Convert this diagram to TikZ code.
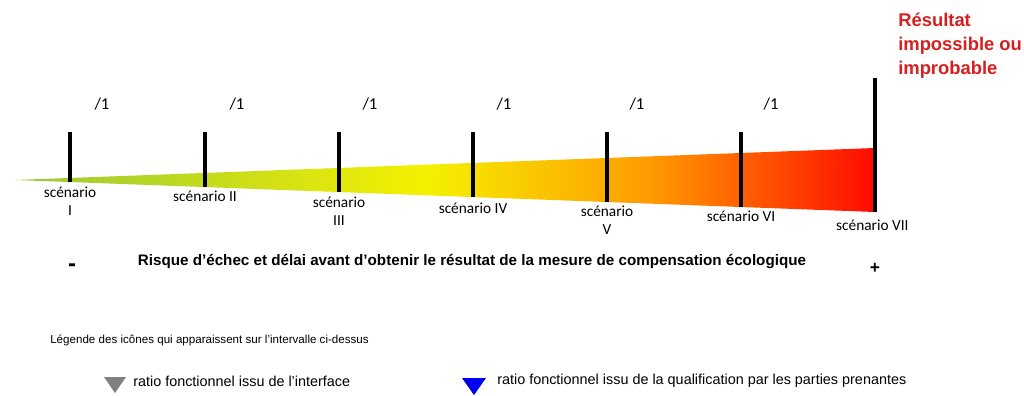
\documentclass[tikz,border=0pt]{standalone}
\usepackage{fontspec}
\setmainfont{Liberation Sans}
\newfontfamily\scenfont{Carlito}
\usetikzlibrary{positioning,calc}

\definecolor{riskgreen}{HTML}{98C836}
\definecolor{riskyellow}{HTML}{F5F000}
\definecolor{riskorange}{HTML}{FF9A00}
\definecolor{riskred}{HTML}{FF0A00}
\definecolor{resultred}{HTML}{D81E1E}
\definecolor{stakeblue}{HTML}{0000F0}

\pgfdeclarehorizontalshading{riskshade}{100bp}{color(0bp)=(riskgreen); color(25bp)=(riskgreen); color(49bp)=(riskyellow); color(62bp)=(riskorange); color(75bp)=(riskred); color(100bp)=(riskred)}

\begin{document}
\begin{tikzpicture}[
    x=0.75pt, y=-0.75pt,
    scenbar/.style={
        line width=3pt,
        black
    },
    ratio/.style={
        font=\scenfont\fontsize{12.5}{14}\selectfont,
        inner sep=0pt
    },
    scenlabel/.style={
        font=\scenfont\fontsize{11.5}{13.5}\selectfont,
        align=center,
        inner sep=1pt
    },
    result/.style={
        font=\bfseries\fontsize{13.8}{18}\selectfont,
        text=resultred,
        align=left,
        anchor=north west,
        inner sep=0pt
    },
    axislabel/.style={
        font=\bfseries\fontsize{11.4}{13}\selectfont,
        inner sep=0pt
    },
    legendtext/.style={
        font=\fontsize{10.8}{12}\selectfont,
        inner sep=0pt
    }
]
\useasboundingbox (0,0) rectangle (1024,396);

% Wedge - risk gradient
\coordinate (tip) at (15,180);
\coordinate (topR) at (875,148);
\coordinate (botR) at (875,212);
\shade[shading=riskshade] (tip) -- (topR) -- (botR) -- cycle;

% Scenario bars (top and bottom on the wedge)
\coordinate (t1) at (70,132);  \coordinate (b1) at (70,182);
\coordinate (t2) at (205,132); \coordinate (b2) at (205,187);
\coordinate (t3) at (339,132); \coordinate (b3) at (339,192);
\coordinate (t4) at (473,132); \coordinate (b4) at (473,197);
\coordinate (t5) at (607,132); \coordinate (b5) at (607,202);
\coordinate (t6) at (741,132); \coordinate (b6) at (741,207);
\coordinate (t7) at (875,78);  \coordinate (b7) at (875,212);
\draw[scenbar] (t1) -- (b1);
\draw[scenbar] (t2) -- (b2);
\draw[scenbar] (t3) -- (b3);
\draw[scenbar] (t4) -- (b4);
\draw[scenbar] (t5) -- (b5);
\draw[scenbar] (t6) -- (b6);
\draw[scenbar] (t7) -- (b7);

% Ratios above the bars
\node[ratio] (r1) at (102,104) {/1};
\node[ratio] (r2) at (237,104) {/1};
\node[ratio] (r3) at (370,104) {/1};
\node[ratio] (r4) at (504,104) {/1};
\node[ratio] (r5) at (637,104) {/1};
\node[ratio] (r6) at (771,104) {/1};

% Scenario labels
\node[scenlabel, below=2.5pt of b1] (s1) {scénario\\I};
\node[scenlabel, below=1.5pt of b2] (s2) {scénario II};
\node[scenlabel, below=2.5pt of b3] (s3) {scénario\\III};
\node[scenlabel, below=3pt of b4] (s4) {scénario IV};
\node[scenlabel, below=1.5pt of b5] (s5) {scénario\\V};
\node[scenlabel, below=1.5pt of b6] (s6) {scénario VI};
\node[scenlabel, below=4.5pt of b7, xshift=-2pt] (s7) {scénario VII};

% Result
\node[result] (impossible) at (898,13) {Résultat\\impossible ou\\improbable};

% Axis
\node[axislabel, font=\bfseries\fontsize{18}{18}\selectfont] (minus) at (72,268) {-};
\node[axislabel] (risk) at (472,262) {Risque d'échec et délai avant d'obtenir le résultat de la mesure de compensation écologique};
\node[axislabel, font=\bfseries\fontsize{13}{14}\selectfont] (plus) at (875,268) {+};

% Legend
\node[legendtext, font=\fontsize{8.7}{10}\selectfont, anchor=west] (legtitle) at (50,340) {Légende des icônes qui apparaissent sur l'intervalle ci-dessus};
\coordinate (greyicon) at (115,385);
\fill[gray] ($(greyicon)+(-11,-8)$) -- ($(greyicon)+(11,-8)$) -- ($(greyicon)+(0,8)$) -- cycle;
\node[legendtext, anchor=west] (greytext) at (133,381) {ratio fonctionnel issu de l'interface};
\coordinate (blueicon) at (474,386);
\fill[stakeblue] ($(blueicon)+(-12,-8)$) -- ($(blueicon)+(12,-8)$) -- ($(blueicon)+(0,9)$) -- cycle;
\node[legendtext, anchor=west] (bluetext) at (497,381) {ratio fonctionnel issu de la qualification par les parties prenantes};

\end{tikzpicture}
\end{document}
